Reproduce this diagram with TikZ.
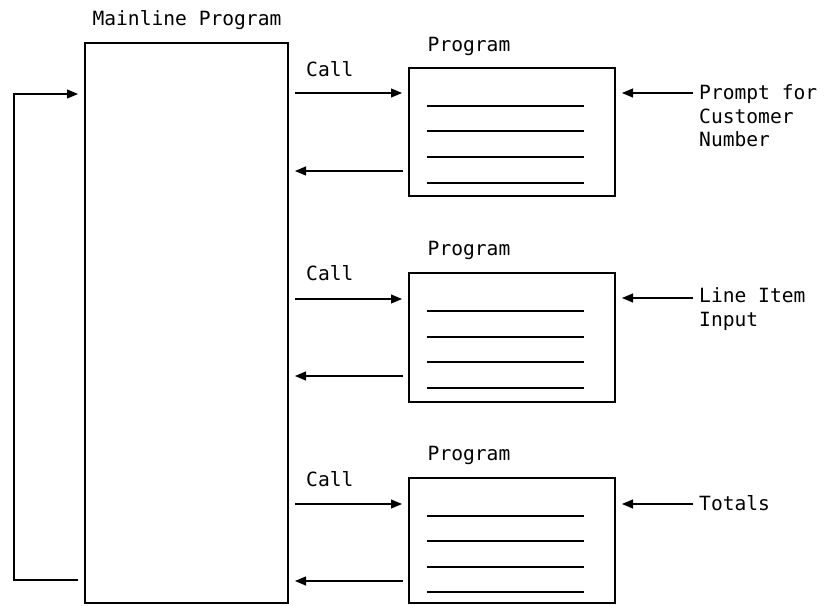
\documentclass[tikz,border=0pt]{standalone}
\usepackage{fontspec}
\newfontfamily\lblfont{DejaVu Sans Mono}
\usetikzlibrary{arrows.meta}
\tikzset{
  lbl/.style={inner sep=0pt, font=\lblfont\fontsize{19.6}{23.5}\selectfont},
  boxstyle/.style={draw, line width=1.1pt, inner sep=0pt},
  arr/.style={line width=1.1pt, -{Triangle[length=11pt,width=9pt]}},
  rule/.style={line width=1.1pt}
}
\begin{document}
\begin{tikzpicture}[x=1pt,y=-1pt]
\useasboundingbox (0,0) rectangle (827,605);
% main box
\node[boxstyle, minimum width=203pt, minimum height=560pt] (main) at (186.5,323) {};
\node[lbl, anchor=base] (mainlbl) at (187,25.5) {Mainline Program};
% program boxes
\node[boxstyle, minimum width=206pt, minimum height=128pt] (p1) at (512,132) {};
\node[boxstyle, minimum width=206pt, minimum height=129pt] (p2) at (512,337.5) {};
\node[boxstyle, minimum width=206pt, minimum height=125pt] (p3) at (512,540.5) {};
\node[lbl, anchor=base] (p1lbl) at (469,51.5) {Program};
\node[lbl, anchor=base] (p2lbl) at (469,255.5) {Program};
\node[lbl, anchor=base] (p3lbl) at (469,460.5) {Program};
% inner rules
\foreach \y in {106,131,157,183,311,337,362,388,516,541,567,592}
  \draw[rule] (427,\y) -- (584,\y);
% call labels
\node[lbl, anchor=base west] (call1) at (306,76.5) {Call};
\node[lbl, anchor=base west] (call2) at (306,280.5) {Call};
\node[lbl, anchor=base west] (call3) at (306,486.5) {Call};
% call/return arrows
\coordinate (c1a) at (295,93);  \coordinate (c1b) at (402,93);
\coordinate (r1a) at (403,171); \coordinate (r1b) at (295,171);
\coordinate (c2a) at (295,299); \coordinate (c2b) at (402,299);
\coordinate (r2a) at (403,376); \coordinate (r2b) at (295,376);
\coordinate (c3a) at (295,504); \coordinate (c3b) at (402,504);
\coordinate (r3a) at (403,581); \coordinate (r3b) at (295,581);
\draw[arr] (c1a) -- (c1b);
\draw[arr] (r1a) -- (r1b);
\draw[arr] (c2a) -- (c2b);
\draw[arr] (r2a) -- (r2b);
\draw[arr] (c3a) -- (c3b);
\draw[arr] (r3a) -- (r3b);
% right inputs
\node[lbl, anchor=west, align=left] (in1) at (699,116) {Prompt for\\Customer\\Number};
\node[lbl, anchor=west, align=left] (in2) at (699,309) {Line Item\\Input};
\node[lbl, anchor=west] (in3) at (699,503) {Totals};
\coordinate (i1a) at (693,93);  \coordinate (i1b) at (622,93);
\coordinate (i2a) at (693,298); \coordinate (i2b) at (622,298);
\coordinate (i3a) at (693,504); \coordinate (i3b) at (622,504);
\draw[arr] (i1a) -- (i1b);
\draw[arr] (i2a) -- (i2b);
\draw[arr] (i3a) -- (i3b);
% loop
\coordinate (la) at (78,580);
\coordinate (lb) at (14,580);
\coordinate (lc) at (14,94);
\coordinate (ld) at (78,94);
\draw[arr] (la) -- (lb) -- (lc) -- (ld);
\end{tikzpicture}
\end{document}
